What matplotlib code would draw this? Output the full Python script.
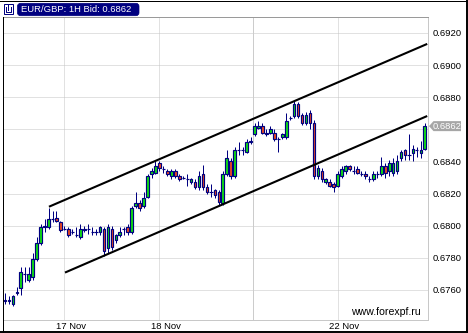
import matplotlib
matplotlib.use('Agg')
import matplotlib.pyplot as plt
from matplotlib.patches import Rectangle, FancyBboxPatch, Polygon
from matplotlib.lines import Line2D
import numpy as np

plt.rcParams['font.family'] = ['Liberation Sans', 'DejaVu Sans']

# ---- data (EUR/GBP hourly candles) ----
opens = [0.6754, 0.6754, 0.6751, 0.6758, 0.6761, 0.6770, 0.6766, 0.6768, 0.6779, 0.6789,
         0.6799, 0.6799, 0.6804, 0.6805, 0.6802, 0.6798, 0.6798, 0.6796, 0.6794, 0.6793,
         0.6797, 0.6798, 0.6796, 0.6796, 0.6796, 0.6798, 0.6786, 0.6798, 0.6791, 0.6794,
         0.6798, 0.6799, 0.6796, 0.6812, 0.6814, 0.6812, 0.6818, 0.6832, 0.6833, 0.6839,
         0.6835, 0.6834, 0.6831, 0.6834, 0.6831, 0.6830, 0.6829, 0.6827, 0.6827, 0.6824,
         0.6832, 0.6824, 0.6821, 0.6822, 0.6821, 0.6814, 0.6832, 0.6840, 0.6831, 0.6847,
         0.6847, 0.6846, 0.6852, 0.6857, 0.6861, 0.6862, 0.6858, 0.6858, 0.6858, 0.6854,
         0.6855, 0.6855, 0.6867, 0.6868, 0.6876, 0.6869, 0.6864, 0.6870, 0.6864, 0.6831,
         0.6834, 0.6827, 0.6827, 0.6826, 0.6825, 0.6831, 0.6834, 0.6837, 0.6834, 0.6835,
         0.6832, 0.6832, 0.6829, 0.6829, 0.6832, 0.6832, 0.6837, 0.6834, 0.6833, 0.6834,
         0.6842, 0.6847, 0.6844, 0.6845, 0.6847, 0.6845, 0.6848]
highs = [0.6758, 0.6756, 0.6757, 0.6762, 0.6774, 0.6774, 0.6774, 0.6783, 0.6793, 0.6801,
         0.6804, 0.6811, 0.6809, 0.6809, 0.6803, 0.6800, 0.6799, 0.6798, 0.6799, 0.6801,
         0.6800, 0.6801, 0.6799, 0.6798, 0.6800, 0.6799, 0.6801, 0.6800, 0.6795, 0.6799,
         0.6799, 0.6801, 0.6812, 0.6821, 0.6816, 0.6821, 0.6832, 0.6836, 0.6840, 0.6840,
         0.6837, 0.6835, 0.6835, 0.6835, 0.6832, 0.6831, 0.6832, 0.6830, 0.6829, 0.6834,
         0.6838, 0.6826, 0.6826, 0.6823, 0.6822, 0.6834, 0.6847, 0.6842, 0.6849, 0.6852,
         0.6849, 0.6854, 0.6855, 0.6864, 0.6865, 0.6864, 0.6860, 0.6862, 0.6860, 0.6855,
         0.6858, 0.6870, 0.6868, 0.6878, 0.6877, 0.6870, 0.6871, 0.6872, 0.6866, 0.6838,
         0.6836, 0.6830, 0.6829, 0.6827, 0.6834, 0.6837, 0.6838, 0.6838, 0.6837, 0.6837,
         0.6834, 0.6834, 0.6831, 0.6834, 0.6834, 0.6843, 0.6839, 0.6841, 0.6842, 0.6844,
         0.6847, 0.6848, 0.6857, 0.6850, 0.6849, 0.6853, 0.6864]
lows = [0.6751, 0.6751, 0.6750, 0.6757, 0.6757, 0.6765, 0.6765, 0.6766, 0.6778, 0.6788,
        0.6796, 0.6798, 0.6802, 0.6802, 0.6796, 0.6797, 0.6793, 0.6795, 0.6793, 0.6792,
        0.6796, 0.6795, 0.6794, 0.6794, 0.6794, 0.6781, 0.6783, 0.6785, 0.6789, 0.6793,
        0.6794, 0.6794, 0.6795, 0.6811, 0.6809, 0.6811, 0.6817, 0.6830, 0.6832, 0.6834,
        0.6833, 0.6831, 0.6829, 0.6830, 0.6828, 0.6829, 0.6825, 0.6826, 0.6823, 0.6822,
        0.6822, 0.6820, 0.6818, 0.6817, 0.6813, 0.6813, 0.6831, 0.6829, 0.6830, 0.6844,
        0.6844, 0.6845, 0.6851, 0.6856, 0.6860, 0.6857, 0.6856, 0.6857, 0.6853, 0.6846,
        0.6854, 0.6854, 0.6866, 0.6867, 0.6867, 0.6863, 0.6863, 0.6860, 0.6829, 0.6829,
        0.6827, 0.6826, 0.6824, 0.6821, 0.6824, 0.6830, 0.6832, 0.6834, 0.6832, 0.6832,
        0.6831, 0.6829, 0.6827, 0.6828, 0.6830, 0.6831, 0.6830, 0.6831, 0.6831, 0.6832,
        0.6840, 0.6841, 0.6841, 0.6840, 0.6843, 0.6842, 0.6847]
closes = [0.6753, 0.6753, 0.6756, 0.6759, 0.6771, 0.6770, 0.6770, 0.6779, 0.6789, 0.6799,
          0.6800, 0.6804, 0.6804, 0.6803, 0.6797, 0.6798, 0.6794, 0.6796, 0.6794, 0.6798,
          0.6798, 0.6798, 0.6796, 0.6796, 0.6799, 0.6784, 0.6799, 0.6787, 0.6794, 0.6796,
          0.6798, 0.6796, 0.6811, 0.6814, 0.6811, 0.6817, 0.6831, 0.6834, 0.6837, 0.6836,
          0.6835, 0.6832, 0.6834, 0.6831, 0.6829, 0.6830, 0.6829, 0.6829, 0.6824, 0.6831,
          0.6824, 0.6821, 0.6821, 0.6819, 0.6815, 0.6832, 0.6842, 0.6831, 0.6847, 0.6847,
          0.6847, 0.6852, 0.6853, 0.6862, 0.6862, 0.6858, 0.6857, 0.6860, 0.6854, 0.6854,
          0.6857, 0.6865, 0.6867, 0.6876, 0.6868, 0.6864, 0.6869, 0.6864, 0.6831, 0.6836,
          0.6829, 0.6829, 0.6825, 0.6824, 0.6832, 0.6835, 0.6837, 0.6835, 0.6834, 0.6833,
          0.6832, 0.6831, 0.6829, 0.6832, 0.6832, 0.6837, 0.6833, 0.6839, 0.6839, 0.6840,
          0.6846, 0.6844, 0.6844, 0.6848, 0.6847, 0.6847, 0.6862]

# channel lines: (bar index, price) endpoints
upper_idx = [11.1, 106.6]
upper_px = [0.68118, 0.69132]
lower_idx = [15.15, 106.6]
lower_px = [0.67708, 0.68683]

day_ticks = [15, 39, 84]
day_labels = ['17 Nov', '18 Nov', '22 Nov']
week_sep = 62.5
price_ticks = [0.6760, 0.6780, 0.6800, 0.6820, 0.6840, 0.6860, 0.6880, 0.6900, 0.6920]
last_price = 0.6862
title = 'EUR/GBP: 1H Bid: 0.6862'
watermark = 'www.forexpf.ru'

# ---- figure ----
W, H = 468, 333
fig = plt.figure(figsize=(W / 100, H / 100), dpi=100)
fig.patch.set_facecolor('white')
ax = fig.add_axes([3 / W, 13 / H, 425 / W, 303 / H])
ax.set_facecolor('white')

navy = '#000080'
green = '#10e010'
red = '#f04a20'
grid_c = '#c4c4c4'
px = 0.72

o = np.array(opens); h = np.array(highs); l = np.array(lows); c = np.array(closes)
idx = np.arange(len(o))

ax.vlines(idx, l, h, color=navy, lw=px, zorder=3)
body = np.abs(c - o)
nd = body > 1e-9
cols = np.where(c >= o, green, red)
ax.bar(idx[nd], body[nd], bottom=np.minimum(o, c)[nd], width=0.68,
       color=cols[nd], edgecolor=navy, linewidth=0.85, zorder=4)
ax.hlines(o[~nd], idx[~nd] - 0.4, idx[~nd] + 0.4, color=navy, lw=0.85, zorder=4)

ax.plot(upper_idx, upper_px, color='black', lw=1.5, zorder=5, solid_capstyle='butt')
ax.plot(lower_idx, lower_px, color='black', lw=1.5, zorder=5, solid_capstyle='butt')

ax.set_xlim(-0.5, 106.8)
ax.set_ylim(0.674126, 0.692996)

ax.set_yticks(price_ticks)
# the label under the last-price tag is hidden in the reference
ax.set_yticklabels(['' if abs(v - 0.6860) < 1e-9 else '%.4f' % v for v in price_ticks])
ax.yaxis.tick_right()
ax.tick_params(axis='y', length=0, pad=3, labelsize=6.8, labelcolor='black')
ax.set_xticks(day_ticks)
ax.tick_params(axis='x', length=0, labelbottom=False)
ax.grid(True, color=grid_c, lw=px, linestyle=(0, (1, 1)), zorder=0)
ax.set_axisbelow(True)
ax.axvline(week_sep, color='#cccccc', lw=px, zorder=1)

for t, lab in zip(day_ticks, day_labels):
    ax.text(t + 1.6, -0.0215, lab, transform=ax.get_xaxis_transform(),
            ha='center', va='center', fontsize=6.8, color='black')

ax.text(0.9835, 0.027, watermark, transform=ax.transAxes, ha='right',
        va='center', fontsize=7.6, color='black', zorder=6)

ax.spines['top'].set_color('#9a9a9a')
for s in ['right', 'bottom']:
    ax.spines[s].set_color('#c8c8c8')
ax.spines['left'].set_color('black')
for s in ax.spines.values():
    s.set_linewidth(px)

# ---- overlay for decorations (pixel coords) ----
ov = fig.add_axes([0, 0, 1, 1])
ov.set_xlim(0, W)
ov.set_ylim(H, 0)
ov.axis('off')
ov.set_zorder(10)
ov.patch.set_alpha(0)

# outer frame
ov.add_line(Line2D([0, W], [0.5, 0.5], color='black', lw=px))
ov.add_line(Line2D([W - 1, W - 1], [0, H], color='black', lw=1.4))
ov.add_line(Line2D([0, W], [H - 1.5, H - 1.5], color='black', lw=1.4))
ov.add_line(Line2D([2.5, 2.5], [17, H], color='black', lw=px))

# title box
ov.add_patch(FancyBboxPatch((17.5, 3.3), 121.5, 12.4,
                            boxstyle='round,pad=0,rounding_size=3',
                            facecolor=navy, edgecolor=navy, lw=0.5))
ov.text(21, 9.7, title, color='white', fontsize=6.8, ha='left', va='center')

# icon
ov.add_patch(Rectangle((3.5, 3.5), 9.5, 10.5, facecolor='white', edgecolor=navy, lw=px))
ov.add_line(Line2D([5.8, 5.8, 10.7, 10.7], [6.5, 11.8, 11.8, 6.5], color=navy, lw=px))
ov.add_line(Line2D([8.2, 8.2], [4.5, 10], color=navy, lw=px))

# last price tag
ypix = H - ax.transData.transform((0, last_price))[1]
ov.add_patch(Polygon([(429, ypix), (433.5, ypix - 5), (461, ypix - 5),
                      (461, ypix + 5), (433.5, ypix + 5)], closed=True,
                     facecolor='#a6a6a6', edgecolor='none'))
ov.text(447.5, ypix, '%.4f' % last_price, color='white', fontsize=6.8,
        ha='center', va='center')

fig.savefig('out.png', dpi=100)
